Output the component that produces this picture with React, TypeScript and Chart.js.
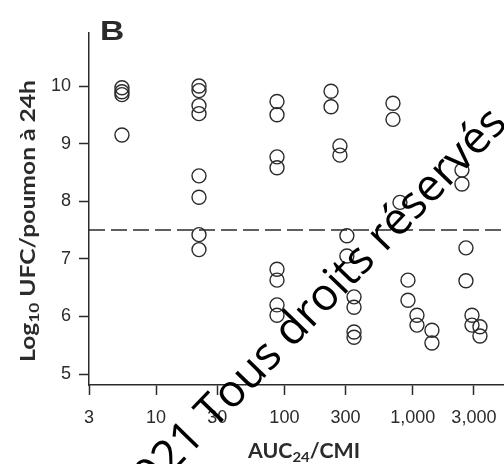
import { useEffect, useRef } from "react";
import { Chart, registerables } from "chart.js";

Chart.register(...registerables);

// AUC24/MIC ratio for each mouse (log axis)
const aucMic = [
  5.42, 5.42, 5.42, 5.42,
  21.6, 21.6, 21.6, 21.6, 21.6, 21.6, 21.6, 21.6,
  87.6, 87.6, 87.6, 87.6, 87.6, 87.6, 87.6, 87.6,
  231, 231, 271, 271, 307, 307, 349, 349, 349, 349,
  702, 702, 796, 919, 919, 1080, 1080, 1413, 1413,
  2421, 2421, 2602, 2602, 2899, 2899, 3345, 3345,
];

// log10 CFU per lung at 24 h
const log10Cfu = [
  9.97, 9.9, 9.85, 9.15,
  10.0, 9.92, 9.66, 9.52, 8.44, 8.07, 7.42, 7.16,
  9.73, 9.5, 8.77, 8.58, 6.82, 6.63, 6.2, 6.02,
  9.91, 9.64, 8.96, 8.8, 7.4, 7.05, 6.34, 6.16, 5.73, 5.64,
  9.7, 9.42, 7.98, 6.63, 6.28, 6.02, 5.85, 5.76, 5.54,
  8.54, 8.3, 7.19, 6.62, 6.02, 5.85, 5.82, 5.66,
];

const xTickValues = [3, 10, 30, 100, 300, 1000, 3000];
const yTickValues = [5, 6, 7, 8, 9, 10];
const xMin = 3;
const xMax = 5150;
const yMin = 4.81;
const yMax = 10.92;
const stasisLine = 7.5;

const ink = "#2b2b2b";
const tickFont = { family: "'Liberation Sans', Arial, sans-serif", size: 18 };

type Run = { text: string; size: number; dy: number };

// Draws a sequence of text runs (normal + subscript) centred on the origin,
// stretched horizontally to the requested width.
function drawRuns(ctx: CanvasRenderingContext2D, runs: Run[], family: string, width: number) {
  let total = 0;
  const widths = runs.map((r) => {
    ctx.font = `bold ${r.size}px ${family}`;
    const w = ctx.measureText(r.text).width;
    total += w;
    return w;
  });
  ctx.save();
  ctx.scale(width / total, 1);
  let x = -total / 2;
  runs.forEach((r, i) => {
    ctx.font = `bold ${r.size}px ${family}`;
    ctx.fillText(r.text, x, r.dy);
    x += widths[i];
  });
  ctx.restore();
}

const decorations = {
  id: "decorations",
  afterDraw(chart: Chart) {
    const ctx = chart.ctx;
    const area = chart.chartArea;
    ctx.save();
    ctx.fillStyle = ink;
    ctx.textBaseline = "alphabetic";
    ctx.textAlign = "left";

    // panel letter
    ctx.save();
    ctx.translate(area.left + 11, area.top + 7);
    ctx.scale(1.2, 1);
    ctx.font = "bold 28px 'Liberation Sans', Arial, sans-serif";
    ctx.fillText("B", 0, 0);
    ctx.restore();

    const titleFamily = "Lato, 'Open Sans', sans-serif";

    // y-axis title
    ctx.save();
    ctx.translate(28, 221);
    ctx.rotate(-Math.PI / 2);
    drawRuns(
      ctx,
      [
        { text: "Log", size: 20, dy: 7 },
        { text: "10", size: 14, dy: 11 },
        { text: " UFC/poumon à 24h", size: 20, dy: 7 },
      ],
      titleFamily,
      282
    );
    ctx.restore();

    // x-axis title
    ctx.save();
    ctx.translate(304, 458);
    drawRuns(
      ctx,
      [
        { text: "AUC", size: 20, dy: 0 },
        { text: "24", size: 14, dy: 4 },
        { text: "/CMI", size: 20, dy: 0 },
      ],
      titleFamily,
      112
    );
    ctx.restore();

    // copyright overlay
    ctx.save();
    ctx.fillStyle = "#000";
    ctx.translate(214, 430);
    ctx.rotate((-46 * Math.PI) / 180);
    ctx.font = "45px 'Open Sans', sans-serif";
    ctx.textAlign = "left";
    ctx.fillText("Tous droits réservés.", 0, 0);
    ctx.textAlign = "right";
    ctx.fillText("©2021 ", 0, 0);
    ctx.restore();

    ctx.restore();
  },
};

export default function App() {
  const canvasRef = useRef<HTMLCanvasElement | null>(null);

  useEffect(() => {
    const canvas = canvasRef.current;
    if (!canvas) return;
    const points = aucMic.map((x, i) => ({ x, y: log10Cfu[i] }));

    const chart = new Chart(canvas, {
      type: "scatter",
      data: {
        datasets: [
          {
            type: "line",
            data: [
              { x: xMin, y: stasisLine },
              { x: xMax, y: stasisLine },
            ],
            borderColor: ink,
            borderWidth: 1.5,
            borderDash: [16, 6],
            pointRadius: 0,
            fill: false,
          },
          {
            type: "scatter",
            data: points,
            pointStyle: "circle",
            pointRadius: 7,
            backgroundColor: "rgba(0,0,0,0)",
            borderColor: ink,
            borderWidth: 1.4,
          },
        ],
      } as any,
      options: {
        responsive: false,
        animation: false,
        devicePixelRatio: 1,
        events: [],
        layout: { autoPadding: false, padding: { top: 33, right: 0, left: 0, bottom: 0 } },
        plugins: { legend: { display: false }, tooltip: { enabled: false } },
        scales: {
          x: {
            type: "logarithmic",
            min: xMin,
            max: xMax,
            afterBuildTicks: (s: any) => {
              s.ticks = xTickValues.map((value) => ({ value }));
            },
            afterFit: (s: any) => {
              s.height = 79;
              s.paddingLeft = 0;
              s.paddingRight = 0;
            },
            grid: {
              drawOnChartArea: false,
              tickLength: 10,
              tickColor: ink,
              tickWidth: 1.5,
            },
            border: { color: ink, width: 1.5 },
            ticks: {
              autoSkip: false,
              maxRotation: 0,
              padding: 12,
              color: ink,
              font: tickFont,
              callback: (v: any) => Number(v).toLocaleString("en-US"),
            },
          },
          y: {
            type: "linear",
            min: yMin,
            max: yMax,
            afterBuildTicks: (s: any) => {
              s.ticks = yTickValues.map((value) => ({ value }));
            },
            afterFit: (s: any) => {
              s.width = 89;
              s.paddingTop = 0;
              s.paddingBottom = 0;
            },
            grid: {
              drawOnChartArea: false,
              tickLength: 10,
              tickColor: ink,
              tickWidth: 1.5,
            },
            border: { color: ink, width: 1.5 },
            ticks: {
              padding: 8,
              color: ink,
              font: tickFont,
              callback: (v: any) => String(v),
            },
          },
        },
      },
      plugins: [decorations],
    });

    return () => chart.destroy();
  }, []);

  return (
    <canvas
      ref={canvasRef}
      width={504}
      height={464}
      style={{ position: "fixed", left: 0, top: 0, width: 504, height: 464, display: "block" }}
    />
  );
}
